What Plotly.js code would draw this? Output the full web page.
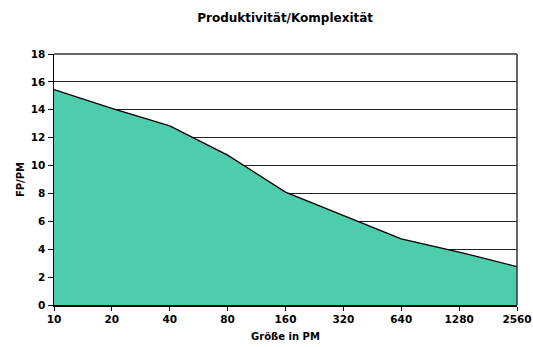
<!DOCTYPE html>
<html>
<head>
<meta charset="utf-8">
<script src="https://cdn.plot.ly/plotly-3.0.1.min.js"></script>
<style>
  html, body { margin: 0; padding: 0; background: #fff; }
  #chart { width: 533px; height: 347px; }
</style>
</head>
<body>
<div id="chart"></div>
<script>
// Project size in person-months (PM) and productivity in FP per PM
const sizes = ['10', '20', '40', '80', '160', '320', '640', '1280', '2560'];
const productivity = [15.45, 14.1, 12.85, 10.75, 8.1, 6.45, 4.75, 3.8, 2.75];
const yTicks = [0, 2, 4, 6, 8, 10, 12, 14, 16, 18];

const font = 'DejaVu Sans, Arial, sans-serif';

const trace = {
  type: 'scatter',
  mode: 'lines',
  x: sizes,
  y: productivity,
  fill: 'tozeroy',
  fillcolor: '#4ecdad',
  line: { color: '#000000', width: 1.3 },
  hoverinfo: 'x+y'
};

const layout = {
  width: 533,
  height: 347,
  margin: { l: 54, r: 16, t: 54, b: 42 },
  paper_bgcolor: '#ffffff',
  plot_bgcolor: '#ffffff',
  showlegend: false,
  title: {
    text: '<b>Produktivität/Komplexität</b>',
    font: { family: font, size: 12, color: '#000' },
    x: 0.535, xanchor: 'center',
    y: 0.95, yanchor: 'middle'
  },
  xaxis: {
    type: 'category',
    range: [0, sizes.length - 1],
    showgrid: false,
    zeroline: false,
    showline: true,
    linecolor: '#000',
    linewidth: 1.5,
    mirror: false,
    ticks: 'outside',
    ticklen: 4,
    tickcolor: '#000',
    tickfont: { family: font, size: 10.5, color: '#000', weight: 'bold' },
    title: {
      text: '<b>Größe in PM</b>',
      font: { family: font, size: 10, color: '#000' },
      standoff: 9
    }
  },
  yaxis: {
    range: [0, 18],
    tickvals: yTicks,
    showgrid: true,
    gridcolor: '#222',
    gridwidth: 1,
    zeroline: false,
    showline: true,
    linecolor: '#000',
    linewidth: 1.5,
    ticks: 'outside',
    ticklen: 5,
    tickcolor: '#000',
    tickfont: { family: font, size: 10.5, color: '#000', weight: 'bold' },
    title: {
      text: '<b>FP/PM</b>',
      font: { family: font, size: 10, color: '#000' },
      standoff: 4
    }
  },
  shapes: [
    // frame along the top and right of the plotting area
    { type: 'line', xref: 'paper', yref: 'paper', x0: 0, x1: 1, y0: 1, y1: 1,
      line: { color: '#333', width: 1.5 } },
    { type: 'line', xref: 'paper', yref: 'paper', x0: 1, x1: 1, y0: 0, y1: 1,
      line: { color: '#333', width: 1.5 } }
  ]
};

Plotly.newPlot('chart', [trace], layout, { displayModeBar: false, staticPlot: true });
</script>
</body>
</html>
